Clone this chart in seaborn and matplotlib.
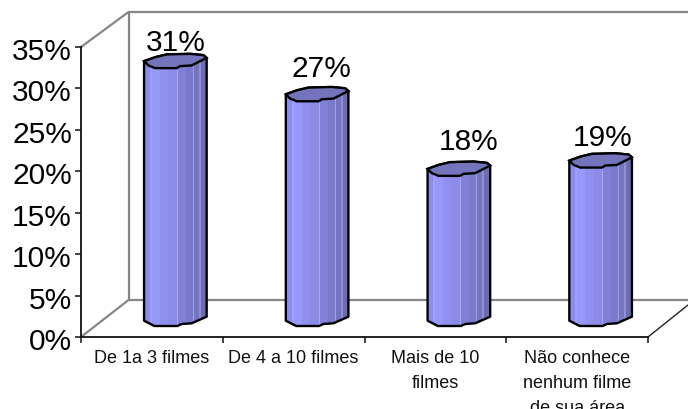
import numpy as np
import pandas as pd
import matplotlib
matplotlib.use("Agg")
import matplotlib.pyplot as plt
from matplotlib.patches import Polygon
from matplotlib.colors import to_rgb
import seaborn as sns

categories = ["De 1a 3 filmes", "De 4 a 10 filmes", "Mais de 10\nfilmes",
              "Não conhece\nnenhum filme\nde sua área"]
values = [31, 27, 18, 19]
value_labels = ["31%", "27%", "18%", "19%"]
y_ticks = [0, 5, 10, 15, 20, 25, 30, 35]

W, H = 688, 409
L, R, T, B = 81, 648, 47, 337
sns.set_theme(style="white")
plt.rcParams["font.family"] = ["Liberation Sans", "DejaVu Sans"]

fig = plt.figure(figsize=(W / 100, H / 100), dpi=100)
ax = fig.add_axes([L / W, (H - B) / H, (R - L) / W, (B - T) / H])
df = pd.DataFrame({"cat": categories, "val": values})

PX = 4 / (R - L)          # data units per pixel, x
PY = 35 / (B - T)         # data units per pixel, y
sns.barplot(data=df, x="cat", y="val", ax=ax, width=63 * PX, color="#9999ff",
            saturation=1, bottom=19 * PY, zorder=3)
ax.set_xlim(-0.5, 3.5)
ax.set_ylim(0, 35)
ax.set_xlabel("")
ax.set_ylabel("")

# pixel outline of the facetted cylinder caps, relative to the cap centre
top_cap = np.array([(-31.3, 0), (-20, -4), (-8.7, -6.7), (14.7, -7.3), (28, -6), (31.3, -3.3),
                    (16.3, 4.3), (4.7, 5), (1.3, 7), (-20.3, 7), (-27, 4.3)])
bottom_cap = np.array([(31.3, -1.3), (16.3, 5.3), (6.3, 6), (2, 8), (-21, 8), (-31.3, 2.7)])
strip_edges = np.array([0, .10, .13, .26, .38, .52, .54, .66, .78, .80, .88, .90, 1])
strip_cols = ["#8c8ced", "#a0a0ff", "#9898fb", "#9090ee", "#8c8ce8", "#a8a8f0", "#8080d8",
              "#7a7acc", "#a0a0e0", "#7474c0", "#9090d0", "#6c6cb4"]
strip_rgb = np.array([to_rgb(c) for c in strip_cols])
idx = np.searchsorted(strip_edges, (np.arange(400) + .5) / 400) - 1
grad = strip_rgb[idx][None, :, :]

shift = 23.5 * PX
label_off = [(0, -18), (4, -25), (10, -27), (2, -23)]
for i, p in enumerate(ax.patches):
    p.set_x(p.get_x() + shift)
    x0, x1 = p.get_x(), p.get_x() + p.get_width()
    cx = (x0 + x1) / 2
    y_top, y_bot = p.get_y() + p.get_height(), p.get_y()
    cap = top_cap * [PX, -PY] + [cx, y_top]
    foot = bottom_cap * [PX, -PY] + [cx, y_bot]
    body = np.vstack([cap[:6], foot])
    ax.add_patch(Polygon(body, closed=True, fc="none", ec="black", lw=1.7, zorder=6, joinstyle="round"))
    clip = Polygon(body, closed=True, transform=ax.transData, fc="none", ec="none")
    ax.add_patch(clip)
    p.set_clip_path(clip)
    im = ax.imshow(grad, extent=(x0, x1, y_bot - 10 * PY, y_top + 10 * PY), aspect="auto",
                   interpolation="nearest", zorder=4)
    im.set_clip_path(clip)
    ax.add_patch(Polygon(cap, closed=True, fc="#7474bd", ec="black", lw=1.7, zorder=7))
    dx, dy = label_off[i]
    ax.annotate(value_labels[i], (cx, y_top), xytext=(dx * 0.72, -dy * 0.72), textcoords="offset points",
                ha="center", va="center", fontsize=21.5, color="black", zorder=8, annotation_clip=False)
ax.set_xlim(-0.5, 3.5)
ax.set_ylim(0, 35)

def d(px, py):
    return (-0.5 + (px - L) * PX, (B - py) * PY)

wall = "#868686"
for a, b in [((128.5, 12), (688, 12)), ((128.5, 12), (128.5, 300)), ((128.5, 300), (688, 300)),
             ((81, 47), (128.5, 12)), ((81, 337), (128.5, 300)), ((648, 337), (688, 305))]:
    (xa, ya), (xb, yb) = d(*a), d(*b)
    col = "#222222" if a == (648, 337) else wall
    ax.plot([xa, xb], [ya, yb], color=col, lw=1.6 if col == wall else 1.0, clip_on=False, zorder=1)
ax.set_xlim(-0.5, 3.5)
ax.set_ylim(0, 35)

for s in ["top", "right"]:
    ax.spines[s].set_visible(False)
for s in ["left", "bottom"]:
    ax.spines[s].set_color("#111111")
    ax.spines[s].set_linewidth(1.3)
ax.patch.set_alpha(0)

ax.set_yticks(y_ticks)
ax.set_yticklabels([])
for v in y_ticks:
    ax.annotate(f"{v}%", (0, v), xycoords=("axes fraction", "data"), xytext=(-9 * 0.72, -5 * 0.72),
                textcoords="offset points", ha="right", va="center", fontsize=21.5,
                color="black", annotation_clip=False)
ax.set_xticks(range(4))
ax.set_xticklabels(categories, fontsize=13, color="#111111", linespacing=1.62)
ax.set_xticks(np.arange(-0.5, 4, 1), minor=True)
ax.tick_params(axis="x", which="major", length=0, pad=9.5)
ax.tick_params(axis="x", which="minor", length=4, width=1.1, color="#111111", bottom=True)
ax.tick_params(axis="y", length=4, width=1.1, color="#111111", left=True)

fig.savefig("out.png", dpi=100)
